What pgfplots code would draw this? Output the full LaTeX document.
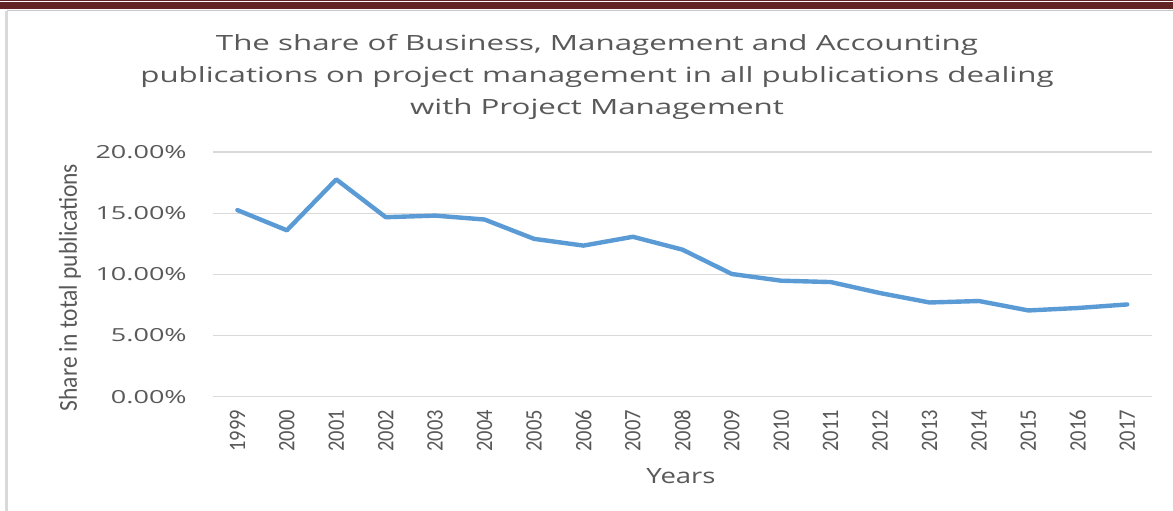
\documentclass[border=0pt]{standalone}
\usepackage{fontspec}
\setmainfont{Open Sans}
\newfontfamily\narrow{Carlito}
\usepackage{pgfplots}
\pgfplotsset{compat=1.18}
\definecolor{txt}{HTML}{595959}
\definecolor{grd}{HTML}{D9D9D9}
\definecolor{ln}{HTML}{5B9BD5}
\definecolor{bar}{HTML}{632523}
\begin{document}
\begin{tikzpicture}[x=1pt,y=1pt]
\useasboundingbox (0,0) rectangle (1173,511);
\fill[white] (0,0) rectangle (1173,511);
% top bar
\fill[bar] (0,501.5) rectangle (1173,511);
\draw[white, line width=0.7pt] (0,509.2) -- (1173,509.2);
\draw[black!22, line width=1.8pt] (7,500.5) -- (1173,500.5);
% left border
\fill[grd] (4.5,0) rectangle (7.5,500);
\begin{axis}[
  at={(212.7pt,114.3pt)}, anchor=south west,
  scale only axis, width=939.3pt, height=244.7pt,
  xmin=-0.5, xmax=18.5, ymin=0, ymax=20,
  axis line style={draw=none},
  major tick length=0pt,
  ymajorgrids, grid style={grd, line width=1.3pt},
  ytick={0,5,10,15,20},
  yticklabels={0.00\%,5.00\%,10.00\%,15.00\%,20.00\%},
  yticklabel style={font=\fontsize{18}{18}\selectfont, text=txt, inner sep=0pt, anchor=east, xshift=-25.7pt, xscale=1.5},
  xtick={0,...,18},
  xticklabels={1999,2000,2001,2002,2003,2004,2005,2006,2007,2008,2009,2010,2011,2012,2013,2014,2015,2016,2017},
  xticklabel style={font=\narrow\fontsize{20.5}{20.5}\selectfont, text=txt, inner sep=0pt, yshift=-13pt, xscale=1.15, rotate=90, anchor=east},
  clip=false,
]
\addplot[ln, line width=4.4pt, line join=round, line cap=round, mark=none] coordinates {
(0,15.25) (1,13.6) (2,17.76) (3,14.67) (4,14.8) (5,14.48) (6,12.9) (7,12.35) (8,13.07) (9,12.02)
(10,10.03) (11,9.48) (12,9.37) (13,8.47) (14,7.7) (15,7.82) (16,7.05) (17,7.25) (18,7.54)
};
\end{axis}
\node[text=txt, font=\fontsize{21}{32}\selectfont, align=center, xscale=1.49] at (597,434)
 {The share of Business, Management and Accounting\\publications on project management in all publications dealing\\with Project Management};
\node[text=txt, font=\fontsize{21}{21}\selectfont, xscale=1.31] at (681,35) {Years};
\node[text=txt, font=\narrow\fontsize{23.5}{23.5}\selectfont, xscale=1.1, rotate=90] at (70,223.5) {Share in total publications};
\end{tikzpicture}
\end{document}
